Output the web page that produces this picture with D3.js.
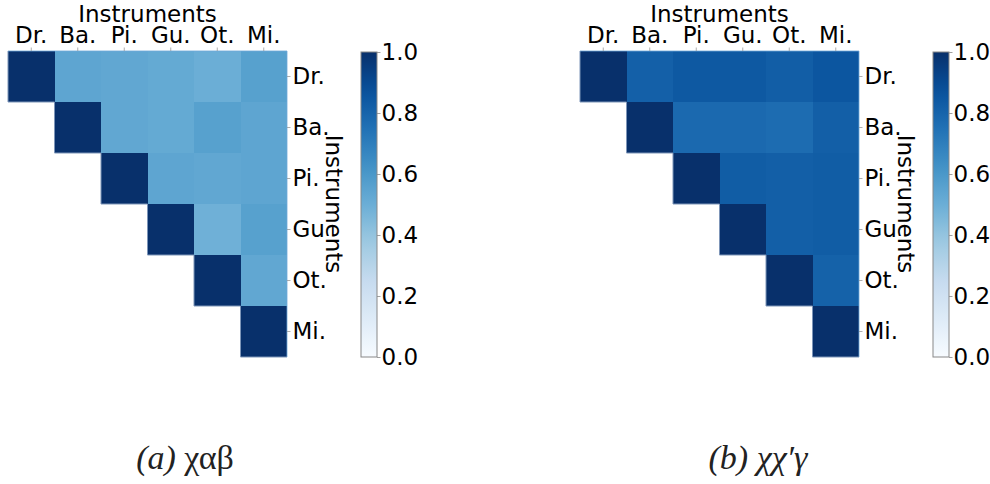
<!DOCTYPE html>
<html>
<head>
<meta charset="utf-8">
<script src="https://cdn.jsdelivr.net/npm/d3@7"></script>
<style>
  html, body { margin: 0; padding: 0; background: #fff; }
  svg { display: block; }
</style>
</head>
<body>
<svg id="chart" width="990" height="484"></svg>
<script>
// Instrument labels shared by both correlation matrices
const instruments = ["Dr.", "Ba.", "Pi.", "Gu.", "Ot.", "Mi."];
const rowLabels = ["Dr.", "Ba.", "Pi.", "Gu", "Ot.", "Mi."];

// Upper-triangular similarity values (row i, columns i..5)
const valuesA = [
  [1.00, 0.54, 0.53, 0.52, 0.50, 0.56],
  [1.00, 0.53, 0.52, 0.56, 0.54],
  [1.00, 0.54, 0.53, 0.54],
  [1.00, 0.49, 0.56],
  [1.00, 0.53],
  [1.00]
];
const valuesB = [
  [1.00, 0.815, 0.845, 0.845, 0.825, 0.855],
  [1.00, 0.78, 0.78, 0.77, 0.82],
  [1.00, 0.83, 0.82, 0.83],
  [1.00, 0.82, 0.83],
  [1.00, 0.81],
  [1.00]
];

const colorbarTicks = [0.0, 0.2, 0.4, 0.6, 0.8, 1.0];
const axisTitle = "Instruments";

// Sequential blue ramp (ColorBrewer Blues, linearly interpolated)
const bluesStops = ["#f7fbff", "#deebf7", "#c6dbef", "#9ecae1", "#6baed6",
                    "#4292c6", "#2171b5", "#08519c", "#08306b"];
const color = d3.scaleLinear()
  .domain(d3.range(bluesStops.length).map(i => i / (bluesStops.length - 1)))
  .range(bluesStops)
  .interpolate(d3.interpolateRgb)
  .clamp(true);

const svg = d3.select("#chart");
const FONT = "'DejaVu Sans', sans-serif";
const FS = 23;

const defs = svg.append("defs");
const grad = defs.append("linearGradient")
  .attr("id", "blues-grad")
  .attr("x1", 0).attr("y1", 1).attr("x2", 0).attr("y2", 0);
d3.range(0, 1.0001, 0.05).forEach(t => {
  grad.append("stop").attr("offset", t).attr("stop-color", color(t));
});

function drawPanel(cfg) {
  const { left, right, top, bottom, values, cbLeft, cbWidth, caption } = cfg;
  const g = svg.append("g");

  const x = d3.scaleBand().domain(instruments).range([left, right]).padding(0);
  const y = d3.scaleBand().domain(d3.range(instruments.length)).range([top, bottom]).padding(0);

  // Cells
  const cells = [];
  values.forEach((row, i) => {
    row.forEach((v, k) => cells.push({ r: i, c: i + k, v }));
  });
  g.selectAll("rect.cell").data(cells).join("rect")
    .attr("class", "cell")
    .attr("x", d => x(instruments[d.c]))
    .attr("y", d => y(d.r))
    .attr("width", x.bandwidth() + 0.4)
    .attr("height", y.bandwidth() + 0.4)
    .attr("fill", d => color(d.v))
    .attr("shape-rendering", "crispEdges");

  // Faint outline along the staircase edge of the triangle
  const stairPts = [[left, top]];
  instruments.forEach((_, i) => {
    const xl = x(instruments[i]);
    stairPts.push([xl, y(i) + y.bandwidth()]);
    stairPts.push([xl + x.bandwidth(), y(i) + y.bandwidth()]);
  });
  g.append("path")
    .attr("d", d3.line()(stairPts))
    .attr("fill", "none")
    .attr("stroke", "#7d95b8")
    .attr("stroke-width", 1);
  g.append("path")
    .attr("d", d3.line()([[left, top], [right, top], [right, bottom]]))
    .attr("fill", "none")
    .attr("stroke", "#6ea8d8")
    .attr("stroke-width", 1)
    .attr("opacity", 0.8);

  // Top axis
  const topAxis = d3.axisTop(x).tickSize(3.5).tickPadding(5);
  const ta = g.append("g").attr("transform", `translate(0,${top})`).call(topAxis);
  ta.select(".domain").remove();
  ta.selectAll(".tick line").attr("stroke", "#999").attr("stroke-width", 0.8);
  ta.selectAll(".tick text").attr("font-family", FONT).attr("font-size", FS).attr("fill", "#000")
    .attr("dy", 0);

  // Right axis
  const yl = d3.scaleBand().domain(rowLabels).range([top, bottom]).padding(0);
  const rightAxis = d3.axisRight(yl).tickSize(3.5).tickPadding(2);
  const ra = g.append("g").attr("transform", `translate(${right},0)`).call(rightAxis);
  ra.select(".domain").remove();
  ra.selectAll(".tick line").attr("stroke", "#999").attr("stroke-width", 0.8);
  ra.selectAll(".tick text").attr("font-family", FONT).attr("font-size", FS).attr("fill", "#000");

  // Axis titles
  g.append("text")
    .attr("x", (left + right) / 2)
    .attr("y", 22)
    .attr("text-anchor", "middle")
    .attr("font-family", FONT).attr("font-size", FS).attr("fill", "#000")
    .text(axisTitle);
  g.append("text")
    .attr("transform", `translate(${right + 47},${(top + bottom) / 2}) rotate(90)`)
    .attr("text-anchor", "middle")
    .attr("dy", "0.35em")
    .attr("font-family", FONT).attr("font-size", FS).attr("fill", "#000")
    .text(axisTitle);

  // Colorbar
  const cbScale = d3.scaleLinear().domain([0, 1]).range([bottom, top + 1]);
  g.append("rect")
    .attr("x", cbLeft).attr("y", top + 1)
    .attr("width", cbWidth).attr("height", bottom - top - 1)
    .attr("fill", "url(#blues-grad)")
    .attr("stroke", "#888").attr("stroke-width", 1);
  const cbAxis = d3.axisRight(cbScale).tickValues(colorbarTicks)
    .tickFormat(d3.format(".1f")).tickSize(3.5).tickPadding(1);
  const ca = g.append("g").attr("transform", `translate(${cbLeft + cbWidth},0)`).call(cbAxis);
  ca.select(".domain").remove();
  ca.selectAll(".tick line").attr("stroke", "#888").attr("stroke-width", 0.8);
  ca.selectAll(".tick text").attr("font-family", FONT).attr("font-size", FS).attr("fill", "#000");

  // Caption
  const cap = g.append("text")
    .attr("x", caption.x).attr("y", 469)
    .attr("text-anchor", "middle")
    .attr("font-family", "'Liberation Serif', 'DejaVu Serif', serif")
    .attr("font-size", 34).attr("fill", "#222");
  cap.append("tspan").attr("font-style", "italic").text(caption.tag + " ");
  cap.append("tspan").attr("font-style", caption.italicBody ? "italic" : "normal").text(caption.body);
}

drawPanel({
  left: 8, right: 287, top: 51, bottom: 357, values: valuesA,
  cbLeft: 361, cbWidth: 16,
  caption: { x: 185, tag: "(a)", body: "χαβ", italicBody: false }
});
drawPanel({
  left: 580, right: 859, top: 51, bottom: 357, values: valuesB,
  cbLeft: 933, cbWidth: 16,
  caption: { x: 758, tag: "(b)", body: "χχ′γ", italicBody: true }
});
</script>
</body>
</html>
